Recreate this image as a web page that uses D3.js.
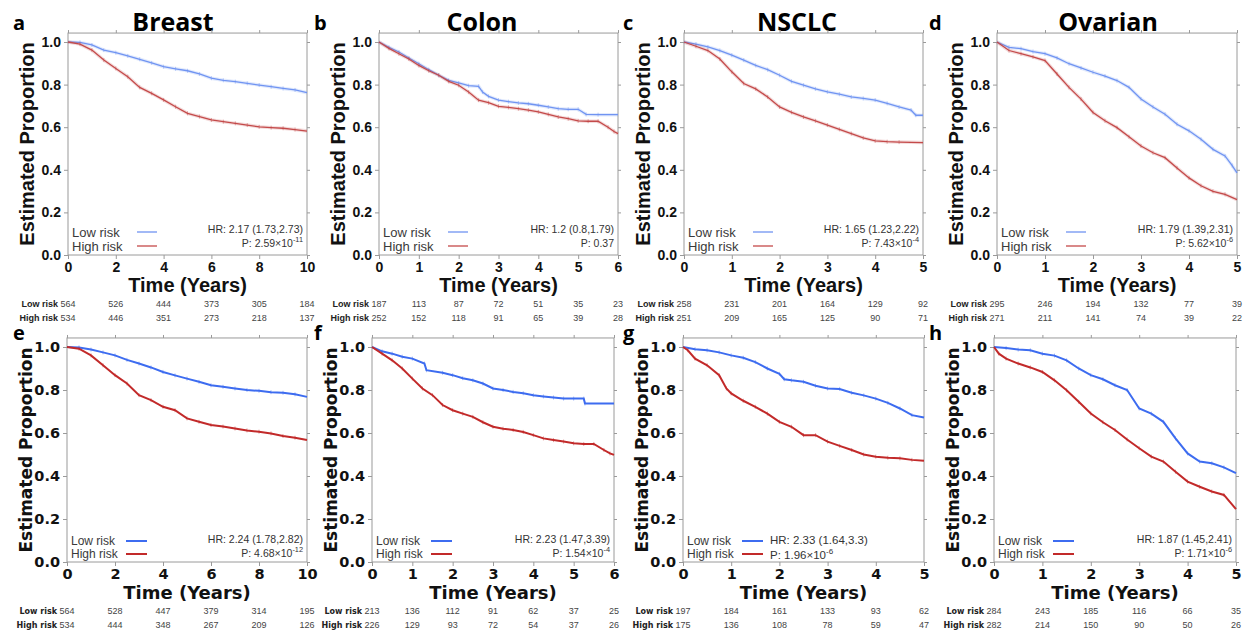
<!DOCTYPE html>
<html>
<head>
<meta charset="utf-8">
<script src="https://cdn.jsdelivr.net/npm/d3@7"></script>
<style>
  body { margin: 0; background: #fff; }
  svg { display: block; }
</style>
</head>
<body>
<div id="chart"></div>
<script>
// ---- data: [time (years), survival] ----
const lowA = [[0,1],[0.5,0.998],[1,0.986],[1.5,0.962],[2,0.95],[2.5,0.935],[3,0.919],[3.5,0.902],[4,0.884],[4.5,0.874],[5,0.865],[5.5,0.85],[6,0.83],[6.5,0.82],[7,0.814],[7.5,0.806],[8,0.798],[8.5,0.79],[9,0.782],[9.5,0.775],[10,0.762]];
const highA = [[0,1],[0.5,0.99],[1,0.962],[1.5,0.915],[2,0.876],[2.5,0.837],[3,0.787],[3.5,0.759],[4,0.728],[4.5,0.696],[5,0.665],[5.5,0.65],[6,0.634],[6.5,0.626],[7,0.618],[7.5,0.61],[8,0.602],[8.5,0.598],[9,0.595],[9.5,0.589],[10,0.582]];

const lowB = [[0,1],[0.25,0.975],[0.5,0.953],[0.75,0.925],[1,0.898],[1.25,0.87],[1.5,0.844],[1.75,0.82],[2,0.808],[2.25,0.795],[2.5,0.792],[2.6,0.765],[2.75,0.745],[3,0.727],[3.25,0.72],[3.5,0.714],[3.75,0.71],[4,0.703],[4.25,0.695],[4.5,0.687],[4.75,0.684],[5,0.684],[5.2,0.66],[5.5,0.659],[6,0.659]];
const highB = [[0,1],[0.25,0.97],[0.5,0.945],[0.75,0.92],[1,0.89],[1.25,0.865],[1.5,0.844],[1.75,0.815],[2,0.797],[2.25,0.765],[2.5,0.727],[2.75,0.715],[3,0.698],[3.25,0.693],[3.5,0.687],[3.75,0.68],[4,0.672],[4.25,0.66],[4.5,0.648],[4.75,0.64],[5,0.63],[5.25,0.628],[5.5,0.628],[5.75,0.6],[5.9,0.58],[6,0.57]];

const lowC = [[0,1],[0.25,0.99],[0.5,0.977],[0.75,0.96],[1,0.938],[1.25,0.915],[1.5,0.89],[1.75,0.87],[2,0.844],[2.25,0.815],[2.5,0.797],[2.75,0.78],[3,0.766],[3.25,0.755],[3.5,0.742],[3.75,0.735],[4,0.727],[4.25,0.712],[4.5,0.695],[4.75,0.68],[4.85,0.656],[5,0.656]];
const highC = [[0,1],[0.25,0.98],[0.5,0.96],[0.75,0.92],[1,0.86],[1.25,0.805],[1.5,0.78],[1.75,0.742],[2,0.695],[2.25,0.67],[2.5,0.648],[2.75,0.63],[3,0.61],[3.25,0.59],[3.5,0.57],[3.75,0.55],[4,0.536],[4.25,0.532],[4.5,0.53],[5,0.528]];

const lowD = [[0,1],[0.25,0.975],[0.5,0.969],[0.75,0.955],[1,0.945],[1.25,0.925],[1.5,0.898],[1.75,0.878],[2,0.858],[2.25,0.84],[2.5,0.819],[2.75,0.787],[3,0.732],[3.25,0.695],[3.5,0.661],[3.75,0.614],[4,0.583],[4.25,0.543],[4.5,0.496],[4.75,0.465],[4.9,0.42],[5,0.386]];
const highD = [[0,1],[0.25,0.96],[0.5,0.945],[0.75,0.93],[1,0.913],[1.25,0.85],[1.5,0.787],[1.75,0.732],[2,0.669],[2.25,0.63],[2.5,0.598],[2.75,0.555],[3,0.512],[3.25,0.48],[3.5,0.457],[3.75,0.409],[4,0.362],[4.25,0.325],[4.5,0.299],[4.75,0.285],[5,0.26]];

const lowE = [[0,1],[0.5,0.998],[1,0.988],[1.5,0.975],[2,0.961],[2.5,0.94],[3,0.923],[3.5,0.905],[4,0.884],[4.5,0.868],[5,0.853],[5.5,0.838],[6,0.822],[6.5,0.815],[7,0.807],[7.5,0.8],[8,0.796],[8.5,0.79],[9,0.787],[9.5,0.78],[10,0.768]];
const highE = [[0,1],[0.5,0.992],[1,0.961],[1.5,0.915],[2,0.869],[2.5,0.83],[3,0.776],[3.5,0.753],[4,0.722],[4.5,0.706],[5,0.668],[5.5,0.652],[6,0.637],[6.5,0.63],[7,0.621],[7.5,0.612],[8,0.606],[8.5,0.598],[9,0.586],[9.5,0.578],[10,0.567]];

const lowF = [[0,1],[0.25,0.98],[0.5,0.969],[0.75,0.955],[1,0.946],[1.3,0.923],[1.35,0.892],[1.75,0.88],[2,0.869],[2.25,0.855],[2.5,0.845],[2.75,0.83],[3,0.807],[3.25,0.8],[3.5,0.791],[3.75,0.785],[4,0.776],[4.25,0.77],[4.5,0.765],[4.75,0.76],[5,0.76],[5.25,0.76],[5.28,0.737],[6,0.737]];
const highF = [[0,1],[0.25,0.969],[0.5,0.938],[0.75,0.9],[1,0.853],[1.25,0.807],[1.5,0.776],[1.75,0.73],[2,0.706],[2.25,0.69],[2.5,0.675],[2.75,0.65],[3,0.629],[3.25,0.62],[3.5,0.614],[3.75,0.605],[4,0.59],[4.25,0.575],[4.5,0.567],[4.75,0.56],[5,0.552],[5.25,0.549],[5.5,0.549],[5.75,0.521],[5.9,0.505],[6,0.498]];

const lowG = [[0,1],[0.25,0.99],[0.5,0.985],[0.75,0.975],[1,0.961],[1.25,0.95],[1.5,0.93],[1.75,0.9],[2,0.875],[2.1,0.85],[2.25,0.845],[2.5,0.838],[2.75,0.82],[3,0.807],[3.25,0.805],[3.5,0.787],[3.75,0.775],[4,0.76],[4.25,0.74],[4.5,0.714],[4.75,0.683],[5,0.672]];
const highG = [[0,1],[0.1,0.985],[0.25,0.946],[0.5,0.915],[0.75,0.869],[0.9,0.807],[1,0.784],[1.25,0.75],[1.5,0.722],[1.75,0.69],[2,0.652],[2.25,0.629],[2.5,0.59],[2.75,0.59],[3,0.56],[3.25,0.54],[3.5,0.521],[3.75,0.5],[4,0.49],[4.25,0.485],[4.5,0.482],[4.75,0.475],[5,0.471]];

const lowH = [[0,1],[0.25,0.995],[0.5,0.988],[0.75,0.985],[1,0.969],[1.25,0.96],[1.5,0.938],[1.75,0.9],[2,0.869],[2.25,0.85],[2.5,0.822],[2.75,0.8],[3,0.714],[3.25,0.69],[3.5,0.652],[3.75,0.575],[4,0.505],[4.25,0.467],[4.5,0.459],[4.75,0.44],[5,0.413]];
const highH = [[0,1],[0.1,0.969],[0.25,0.946],[0.5,0.923],[0.75,0.905],[1,0.884],[1.25,0.845],[1.5,0.799],[1.75,0.745],[2,0.691],[2.25,0.65],[2.5,0.614],[2.75,0.57],[3,0.529],[3.25,0.49],[3.5,0.467],[3.75,0.42],[4,0.374],[4.25,0.35],[4.5,0.328],[4.75,0.312],[5,0.246]];

// numbers at risk, one per x tick
const riskLowA = [564,526,444,373,305,184], riskHighA = [534,446,351,273,218,137];
const riskLowB = [187,113,87,72,51,35,23],  riskHighB = [252,152,118,91,65,39,28];
const riskLowC = [258,231,201,164,129,92],  riskHighC = [251,209,165,125,90,71];
const riskLowD = [295,246,194,132,77,39],   riskHighD = [271,211,141,74,39,22];
const riskLowE = [564,528,447,379,314,195], riskHighE = [534,444,348,267,209,126];
const riskLowF = [213,136,112,91,62,37,25], riskHighF = [226,129,93,72,54,37,26];
const riskLowG = [197,184,161,133,93,62],   riskHighG = [175,136,108,78,59,47];
const riskLowH = [284,243,185,116,66,35],   riskHighH = [282,214,150,90,50,26];

const ticks10 = [0,2,4,6,8,10], ticks6 = [0,1,2,3,4,5,6], ticks5 = [0,1,2,3,4,5];
const yTicks = [0,0.2,0.4,0.6,0.8,1.0];

const titles = ["Breast", "Colon", "NSCLC", "Ovarian"];
const letters = ["a","b","c","d","e","f","g","h"];
const hrText = ["2.17 (1.73,2.73)","1.2 (0.8,1.79)","1.65 (1.23,2.22)","1.79 (1.39,2.31)",
                "2.24 (1.78,2.82)","2.23 (1.47,3.39)","2.33 (1.64,3.3)","1.87 (1.45,2.41)"];
const pMant = ["2.59","0.37","7.43","5.62","4.68","1.54","1.96","1.71"];
const pExp  = ["-11", null, "-4", "-6", "-12", "-4", "-6", "-6"];

// ---- layout ----
const W = 1255, H = 632;
const svg = d3.select("#chart").append("svg").attr("width", W).attr("height", H);

const rows = [
  { y0: 255, y1: 42, lefts: [68,379,684,997], rights: [307,618,923,1237],
    tickFont: "'Liberation Sans', Arial, sans-serif", tickSize: 14, titleSize: 20,
    legSize: 13, hrSize: 10.5, lineW: 1.3, halo: true, legLine: [69,89],
    blue: "#7094f2", red: "#c44a4a", risk: [304, 318], letterY: 30,
    legY: [23, 9], hrY: [26, 12], tableFont: "'Liberation Sans', Arial, sans-serif" },
  { y0: 562, y1: 347, lefts: [67,372,683,994], rights: [307,614,924,1236],
    tickFont: "'DejaVu Sans', sans-serif", tickSize: 14.5, titleSize: 17,
    legSize: 12, hrSize: 10.5, lineW: 2, halo: false, legLine: [59,80],
    blue: "#3d6cf0", red: "#c22a2a", risk: [611, 625], letterY: 340,
    legY: [21, 8], hrY: [23, 9], tableFont: "'DejaVu Sans', sans-serif" }
];
const letterX = [13, 314, 623, 929];
const titleX = [173, 482, 797, 1108];

const panels = [
  { low: lowA, high: highA, ticks: ticks10, rl: riskLowA, rh: riskHighA },
  { low: lowB, high: highB, ticks: ticks6,  rl: riskLowB, rh: riskHighB },
  { low: lowC, high: highC, ticks: ticks5,  rl: riskLowC, rh: riskHighC },
  { low: lowD, high: highD, ticks: ticks5,  rl: riskLowD, rh: riskHighD },
  { low: lowE, high: highE, ticks: ticks10, rl: riskLowE, rh: riskHighE },
  { low: lowF, high: highF, ticks: ticks6,  rl: riskLowF, rh: riskHighF },
  { low: lowG, high: highG, ticks: ticks5,  rl: riskLowG, rh: riskHighG, hrLeft: true },
  { low: lowH, high: highH, ticks: ticks5,  rl: riskLowH, rh: riskHighH }
];

const frameGray = "#9a9a9a";
const YMAX = 1.042;

// column titles
titles.forEach((t, i) => {
  svg.append("text").attr("x", titleX[i]).attr("y", 31)
    .attr("text-anchor", "middle")
    .style("font-family", "'Open Sans', sans-serif").style("font-weight", 700)
    .style("font-size", "25px").style("fill", "#000").text(t);
});

panels.forEach((p, i) => {
  const r = rows[Math.floor(i / 4)], c = i % 4;
  const left = r.lefts[c], right = r.rights[c];
  const tmax = p.ticks[p.ticks.length - 1];

  const x = d3.scaleLinear().domain([0, tmax]).range([left, right]);
  const y = d3.scaleLinear().domain([0, 1]).range([r.y0, r.y1]);
  const g = svg.append("g");

  // panel letter
  svg.append("text").attr("x", letterX[c]).attr("y", r.letterY)
    .style("font-family", "'Open Sans', sans-serif").style("font-weight", 700)
    .style("font-size", "20px").style("fill", "#000").text(letters[i]);

  // frame
  g.append("rect").attr("x", x(0)).attr("y", y(YMAX))
    .attr("width", x(tmax) - x(0)).attr("height", y(0) - y(YMAX))
    .attr("fill", "none").attr("stroke", frameGray).attr("stroke-width", 1);

  // axes
  const styleAxis = sel => {
    sel.select(".domain").remove();
    sel.selectAll(".tick line").attr("stroke", frameGray);
    sel.selectAll(".tick text")
      .style("font-family", r.tickFont).style("font-weight", 700)
      .style("font-size", r.tickSize + "px").style("fill", "#111");
  };
  g.append("g").attr("transform", `translate(0,${y(0)})`)
    .call(d3.axisBottom(x).tickValues(p.ticks).tickSize(4).tickFormat(d3.format("d")))
    .call(styleAxis);
  g.append("g").attr("transform", `translate(${x(0)},0)`)
    .call(d3.axisLeft(y).tickValues(yTicks).tickSize(4).tickFormat(d3.format(".1f")))
    .call(styleAxis);
  g.append("g").attr("transform", `translate(0,${y(YMAX)})`)
    .call(d3.axisTop(x).tickValues(p.ticks).tickSize(3).tickFormat(""))
    .call(styleAxis);
  g.append("g").attr("transform", `translate(${x(tmax)},0)`)
    .call(d3.axisRight(y).tickValues(yTicks).tickSize(3).tickFormat(""))
    .call(styleAxis);

  // axis titles
  g.append("text")
    .attr("transform", `translate(${x(0) - 41},${(y(0) + y(YMAX)) / 2}) rotate(-90)`)
    .attr("text-anchor", "middle").attr("dominant-baseline", "central")
    .style("font-family", r.tickFont).style("font-weight", 700)
    .style("font-size", r.titleSize + "px").style("fill", "#111")
    .text("Estimated Proportion");
  g.append("text").attr("x", (x(0) + x(tmax)) / 2).attr("y", y(0) + 37)
    .attr("text-anchor", "middle")
    .style("font-family", r.tickFont).style("font-weight", 700)
    .style("font-size", (r.titleSize + (r.halo ? 0 : 1)) + "px").style("fill", "#111")
    .text("Time (Years)");

  // survival curves
  const line = d3.line().x(d => x(d[0])).y(d => y(d[1]));
  [[p.low, r.blue], [p.high, r.red]].forEach(([data, col]) => {
    if (r.halo) {
      g.append("path").datum(data).attr("d", line).attr("fill", "none")
        .attr("stroke", col).attr("stroke-width", 3.5).attr("stroke-opacity", 0.2);
    }
    g.append("path").datum(data).attr("d", line).attr("fill", "none")
      .attr("stroke", col).attr("stroke-width", r.lineW);
    // censor marks
    g.selectAll(null).data(data.slice(1, -1)).enter().append("line")
      .attr("x1", d => x(d[0])).attr("x2", d => x(d[0]))
      .attr("y1", d => y(d[1]) - 2).attr("y2", d => y(d[1]) + 2)
      .attr("stroke", col).attr("stroke-width", 1).attr("stroke-opacity", 0.45);
  });

  // legend
  const legFont = "'Liberation Sans', Arial, sans-serif";
  [["Low risk", r.blue, r.legY[0]], ["High risk", r.red, r.legY[1]]].forEach(([lab, col, dy]) => {
    g.append("text").attr("x", x(0) + 4).attr("y", y(0) - dy)
      .attr("dominant-baseline", "central")
      .style("font-family", legFont).style("font-size", r.legSize + "px").style("fill", "#3a3a3a")
      .text(lab);
    g.append("line").attr("x1", x(0) + r.legLine[0]).attr("x2", x(0) + r.legLine[1])
      .attr("y1", y(0) - dy).attr("y2", y(0) - dy)
      .attr("stroke", col).attr("stroke-width", r.lineW);
  });

  // HR and P
  const hx = p.hrLeft ? x(0) + 87 : x(tmax) - 4;
  const anchor = p.hrLeft ? "start" : "end";
  const hrSize = p.hrLeft ? 11.5 : r.hrSize;
  g.append("text").attr("x", hx).attr("y", y(0) - (p.hrLeft ? r.legY[0] + 1 : r.hrY[0]))
    .attr("text-anchor", anchor).attr("dominant-baseline", "central")
    .style("font-family", legFont).style("font-size", hrSize + "px").style("fill", "#333")
    .text("HR: " + hrText[i]);
  const pt = g.append("text").attr("x", hx).attr("y", y(0) - (p.hrLeft ? r.legY[1] - 1 : r.hrY[1]))
    .attr("text-anchor", anchor).attr("dominant-baseline", "central")
    .style("font-family", legFont).style("font-size", hrSize + "px").style("fill", "#333");
  if (pExp[i]) {
    pt.append("tspan").text("P: " + pMant[i] + "\u00d710");
    pt.append("tspan").attr("dy", -4).style("font-size", (hrSize * 0.7) + "px").text(pExp[i]);
  } else {
    pt.text("P: " + pMant[i]);
  }

  // numbers at risk table
  [["Low risk", p.rl, r.risk[0]], ["High risk", p.rh, r.risk[1]]].forEach(([lab, vals, yy]) => {
    g.append("text").attr("x", x(0) - 10).attr("y", yy)
      .attr("text-anchor", "end").attr("dominant-baseline", "central")
      .style("font-family", r.tableFont).style("font-weight", 700)
      .style("font-size", (r.halo ? 9 : 8) + "px").style("fill", "#222").text(lab);
    g.selectAll(null).data(vals).enter().append("text")
      .attr("x", (d, k) => x(p.ticks[k])).attr("y", yy)
      .attr("text-anchor", "middle").attr("dominant-baseline", "central")
      .style("font-family", "'Liberation Sans', Arial, sans-serif")
      .style("font-size", "9px").style("fill", "#444").text(d => d);
  });
});
</script>
</body>
</html>
